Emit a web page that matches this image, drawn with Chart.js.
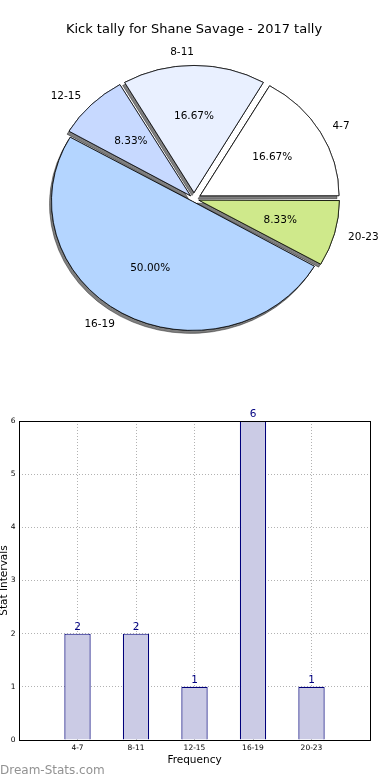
<!DOCTYPE html>
<html>
<head>
<meta charset="utf-8">
<script src="https://cdn.jsdelivr.net/npm/chart.js@4.4.0/dist/chart.umd.min.js"></script>
<style>
body{margin:0;background:#fff;width:390px;height:780px;position:relative;overflow:hidden;font-family:"DejaVu Sans",sans-serif}
#pie{position:absolute;left:0;top:0}
#bar{position:absolute;left:0;top:380px}
#mark{position:absolute;left:0;top:763px;font-size:12px;color:#929292}
</style>
</head>
<body>
<canvas id="pie" width="390" height="360"></canvas>
<canvas id="bar" width="390" height="400"></canvas>
<div id="mark">Dream-Stats.com</div>
<script>
// data
var categories = ['4-7', '8-11', '12-15', '16-19', '20-23'];
var kicks = [2, 2, 1, 6, 1];
var sliceColors = ['#ffffff', '#e9f0ff', '#c7d9ff', '#b4d5ff', '#cfe98b'];
var explode = [28, 28, 20, 12, 20];
var yTicks = [0, 1, 2, 3, 4, 5, 6];

Chart.defaults.font.family = 'DejaVu Sans';
Chart.defaults.color = '#000';

// matplotlib goes counter clockwise from 3 o'clock, chart.js clockwise -> reverse
var pieLabels = categories.slice().reverse();
var pieValues = kicks.slice().reverse();
var pieColors = sliceColors.slice().reverse();
var pieOffsets = explode.slice().reverse();
var squash = 0.915;

var pieLook = {
    id: 'pieLook',
    beforeDatasetsDraw: function(chart) {
        var arcs = chart.getDatasetMeta(0).data;
        var ctx = chart.ctx;
        ctx.save();
        ctx.translate(arcs[0].x, arcs[0].y);
        ctx.scale(1, squash);
        ctx.translate(-arcs[0].x, -arcs[0].y);
        // shadow pass first so every wedge ends up on top of all shadows
        ctx.save();
        ctx.shadowColor = 'rgba(0,0,0,0.5)';
        ctx.shadowOffsetX = -2;
        ctx.shadowOffsetY = 3;
        arcs.forEach(function(arc) { arc.draw(ctx); });
        ctx.restore();
    },
    afterDatasetsDraw: function(chart) {
        var ctx = chart.ctx;
        ctx.restore();
        var meta = chart.getDatasetMeta(0);
        var vals = chart.data.datasets[0].data;
        var total = vals.reduce(function(a, b) { return a + b; }, 0);
        ctx.save();
        ctx.font = '10.5px "DejaVu Sans"';
        ctx.fillStyle = '#000';
        ctx.textBaseline = 'middle';
        meta.data.forEach(function(arc, i) {
            var mid = (arc.startAngle + arc.endAngle) / 2;
            var t = (arc.options.offset || 0) / 4;
            var fix = 1 - Math.sin(Math.min(Math.PI, arc.endAngle - arc.startAngle));
            var r = arc.outerRadius + t * fix;
            var c = Math.cos(mid), s = Math.sin(mid) * squash;
            var pct = (vals[i] / total * 100).toFixed(2) + '%';
            ctx.textAlign = 'center';
            ctx.fillText(pct, arc.x + c * (t + 0.6 * r), arc.y + s * (t + 0.6 * r));
            ctx.textAlign = c > 1e-6 ? 'left' : 'right';
            ctx.fillText(chart.data.labels[i], arc.x + c * (t + 1.1 * r), arc.y + s * (t + 1.1 * r));
        });
        ctx.restore();
    }
};

new Chart(document.getElementById('pie'), {
    type: 'pie',
    data: {
        labels: pieLabels,
        datasets: [{
            data: pieValues,
            backgroundColor: pieColors,
            borderColor: '#000',
            borderWidth: 0.8,
            offset: pieOffsets
        }]
    },
    options: {
        responsive: false,
        animation: false,
        events: [],
        rotation: 90,
        radius: 138,
        layout: { padding: { left: 0, right: 2, top: 0, bottom: 9.6 } },
        plugins: {
            legend: { display: false },
            tooltip: { enabled: false },
            title: {
                display: true,
                text: 'Kick tally for Shane Savage - 2017 tally',
                color: '#000',
                font: { size: 13, weight: 'normal' },
                padding: { top: 22, bottom: 10 }
            }
        }
    },
    plugins: [pieLook]
});

// bar chart: blank slots either side so the axis runs 0..6 like matplotlib
var barLabels = [''].concat(categories, ['']);
var barValues = [null].concat(kicks, [null]);

var barLook = {
    id: 'barLook',
    afterDatasetsDraw: function(chart) {
        var ctx = chart.ctx;
        var meta = chart.getDatasetMeta(0);
        var vals = chart.data.datasets[0].data;
        ctx.save();
        ctx.font = '10.5px "DejaVu Sans"';
        ctx.fillStyle = '#000080';
        ctx.textAlign = 'center';
        ctx.textBaseline = 'bottom';
        meta.data.forEach(function(bar, i) {
            if (vals[i] == null) return;
            ctx.fillText(vals[i], bar.x, bar.y - 1);
        });
        ctx.restore();
    },
    afterDraw: function(chart) {
        var a = chart.chartArea, ctx = chart.ctx;
        ctx.save();
        ctx.strokeStyle = '#000';
        ctx.lineWidth = 1;
        ctx.strokeRect(Math.round(a.left) + 0.5, Math.round(a.top) + 0.5,
            Math.round(a.right - a.left), Math.round(a.bottom - a.top));
        ctx.restore();
    }
};

new Chart(document.getElementById('bar'), {
    type: 'bar',
    data: {
        labels: barLabels,
        datasets: [{
            data: barValues,
            backgroundColor: '#cbcbe5',
            borderColor: '#00007a',
            borderWidth: 1.2,
            barPercentage: 0.45,
            categoryPercentage: 1
        }]
    },
    options: {
        responsive: false,
        animation: false,
        events: [],
        layout: { padding: { left: 0, right: 20, top: 41, bottom: 0 } },
        plugins: { legend: { display: false }, tooltip: { enabled: false } },
        scales: {
            x: {
                offset: false,
                z: 1,
                grid: { offset: false, color: 'rgba(0,0,0,0.3)', drawTicks: false },
                border: { display: false, dash: [1, 2] },
                ticks: { autoSkip: false, maxRotation: 0, padding: 4, font: { size: 7.5 } },
                title: { display: true, text: 'Frequency', font: { size: 10.5 }, padding: { top: 0, bottom: 13.7 } },
                afterFit: function(s) { s.height = 40; }
            },
            y: {
                min: yTicks[0],
                max: yTicks[yTicks.length - 1],
                z: 1,
                grid: { color: 'rgba(0,0,0,0.3)', drawTicks: false },
                border: { display: false, dash: [1, 2] },
                ticks: { stepSize: 1, padding: 3.5, font: { size: 7.5 } },
                title: { display: true, text: 'Stat Intervals', font: { size: 10.5 }, padding: { top: -2, bottom: 0 } },
                afterFit: function(s) { s.width = 19; }
            }
        }
    },
    plugins: [barLook]
});
</script>
</body>
</html>
